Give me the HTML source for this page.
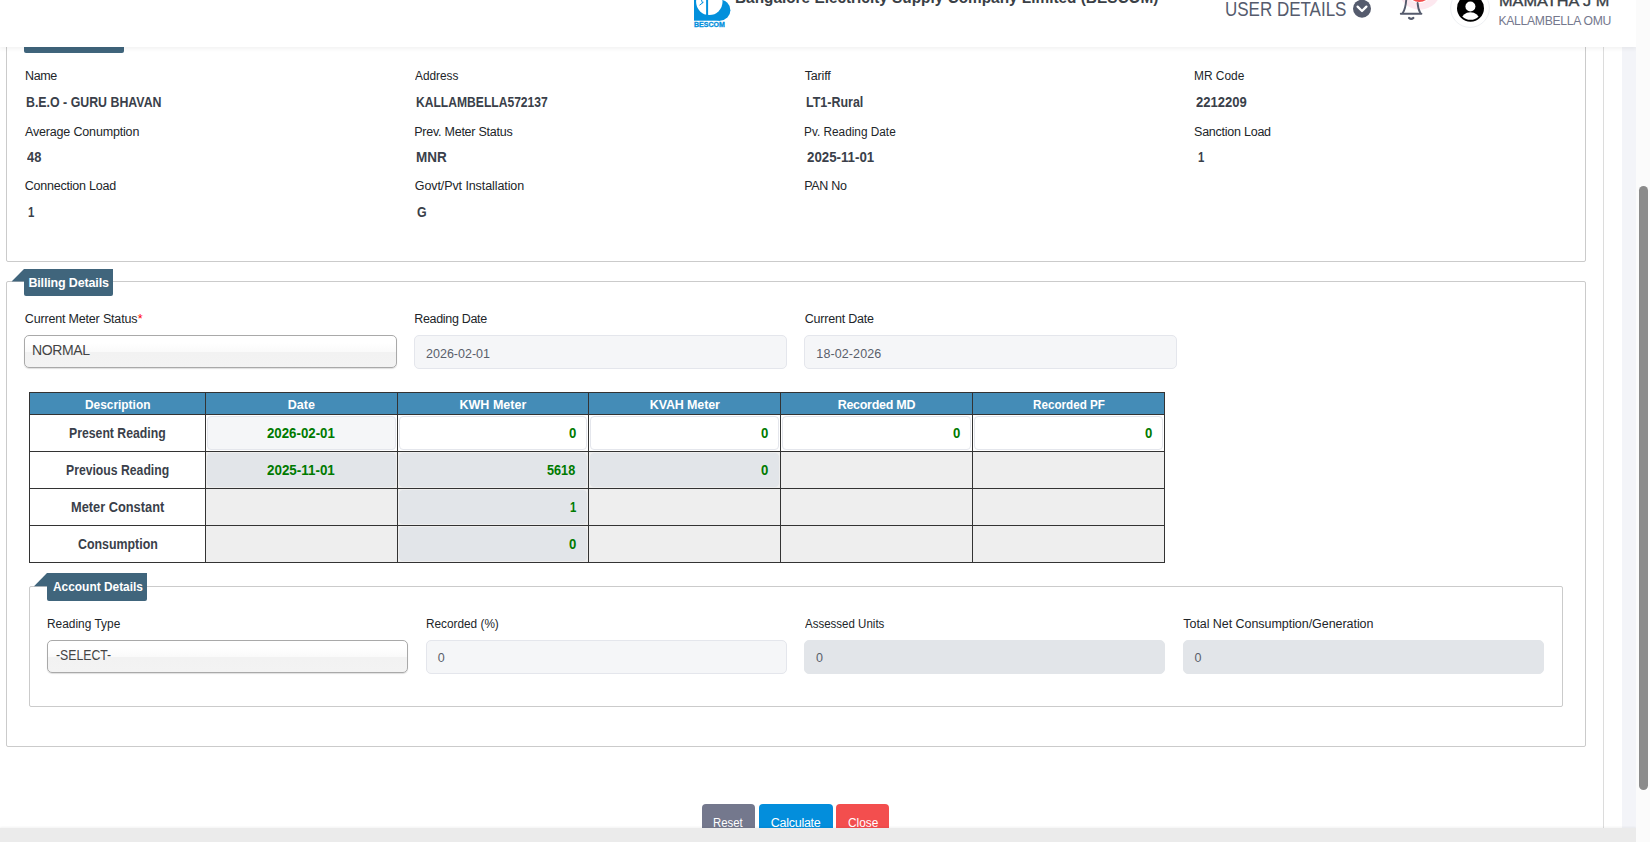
<!DOCTYPE html>
<html lang="en">
<head>
<meta charset="utf-8">
<title>BESCOM - Billing</title>
<style>
html,body{margin:0;padding:0;}
body{width:1650px;height:842px;overflow:hidden;position:relative;background:#fff;font-family:"Liberation Sans",sans-serif;font-size:12.5px;color:#212529;}
.abs{position:absolute;box-sizing:border-box;}
.t{position:absolute;white-space:nowrap;line-height:1;font-family:"Liberation Sans",sans-serif;}
.fs{border:1px solid #cbcbcb;border-radius:2px;background:transparent;}
.lg{background:#40657c;border-radius:0 0 2px 2px;}
.sel{border:1px solid #a9a9a9;border-radius:5px;background:linear-gradient(#ffffff 0%,#ffffff 22%,#fafafa 50%,#f2f2f2 53%,#f3f3f3 100%);box-shadow:0 1px 1px rgba(0,0,0,.13);}
.inp{border:1px solid #e4e6ec;border-radius:5px;background:#f5f6f8;}
.inp.dis{background:#e2e5e9;border-color:#e2e5e9;}
.inp.wh{background:#fff;}
.c{position:absolute;box-sizing:border-box;background:#fff;}
.c.h{background:#448cb7;}
.c.g{background:#eeeeee;}
.c .inp{position:absolute;left:1px;top:1px;right:1px;bottom:1px;box-sizing:border-box;border-radius:4px;}
.btn{position:absolute;box-sizing:border-box;top:804px;height:36px;border-radius:4px;}
</style>
</head>
<body>

<!-- ======== page content (scrolled) ======== -->
<div class="abs" style="left:1603px;top:0;width:1px;height:828px;background:#dcdcdc;"></div>
<div class="abs" style="left:1622px;top:0;width:14px;height:828px;background:#f3f4f8;"></div>

<!-- fieldset 1 : consumer details -->
<div class="abs fs" style="left:6px;top:-40px;width:1580px;height:302px;"></div>
<div class="abs lg" style="left:24px;top:20px;width:100px;height:33px;"></div>

<!-- fieldset 2 : billing details -->
<div class="abs fs" style="left:6px;top:281px;width:1580px;height:466px;"></div>
<svg class="abs" style="left:10px;top:267px;" width="16" height="16" viewBox="0 0 16 16"><polygon points="1.6,14.6 14,2 14,14.6" fill="#40657c"/></svg>
<div class="abs lg" style="left:24px;top:269px;width:89px;height:27px;"></div>

<div class="abs sel" style="left:24px;top:335px;width:373px;height:32.8px;"></div>
<div class="abs inp" style="left:414px;top:335px;width:373px;height:34px;"></div>
<div class="abs inp" style="left:804px;top:335px;width:373px;height:34px;"></div>

<!-- readings table -->
<div class="abs" style="left:29px;top:392px;width:1136px;height:171px;background:#333;">
  <!-- header row -->
  <div class="c h" style="left:1px;top:1px;width:175px;height:21px;"></div>
  <div class="c h" style="left:177px;top:1px;width:191px;height:21px;"></div>
  <div class="c h" style="left:369px;top:1px;width:190px;height:21px;"></div>
  <div class="c h" style="left:560px;top:1px;width:191px;height:21px;"></div>
  <div class="c h" style="left:752px;top:1px;width:191px;height:21px;"></div>
  <div class="c h" style="left:944px;top:1px;width:191px;height:21px;"></div>
  <!-- row 1 : present reading -->
  <div class="c" style="left:1px;top:23px;width:175px;height:36px;"></div>
  <div class="c" style="left:177px;top:23px;width:191px;height:36px;"><div class="inp"></div></div>
  <div class="c" style="left:369px;top:23px;width:190px;height:36px;"><div class="inp wh"></div></div>
  <div class="c" style="left:560px;top:23px;width:191px;height:36px;"><div class="inp wh"></div></div>
  <div class="c" style="left:752px;top:23px;width:191px;height:36px;"><div class="inp wh"></div></div>
  <div class="c" style="left:944px;top:23px;width:191px;height:36px;"><div class="inp wh"></div></div>
  <!-- row 2 : previous reading -->
  <div class="c" style="left:1px;top:60px;width:175px;height:36px;"></div>
  <div class="c g" style="left:177px;top:60px;width:191px;height:36px;"><div class="inp dis"></div></div>
  <div class="c g" style="left:369px;top:60px;width:190px;height:36px;"><div class="inp dis"></div></div>
  <div class="c g" style="left:560px;top:60px;width:191px;height:36px;"><div class="inp dis"></div></div>
  <div class="c g" style="left:752px;top:60px;width:191px;height:36px;"></div>
  <div class="c g" style="left:944px;top:60px;width:191px;height:36px;"></div>
  <!-- row 3 : meter constant -->
  <div class="c" style="left:1px;top:97px;width:175px;height:36px;"></div>
  <div class="c g" style="left:177px;top:97px;width:191px;height:36px;"></div>
  <div class="c g" style="left:369px;top:97px;width:190px;height:36px;"><div class="inp dis"></div></div>
  <div class="c g" style="left:560px;top:97px;width:191px;height:36px;"></div>
  <div class="c g" style="left:752px;top:97px;width:191px;height:36px;"></div>
  <div class="c g" style="left:944px;top:97px;width:191px;height:36px;"></div>
  <!-- row 4 : consumption -->
  <div class="c" style="left:1px;top:134px;width:175px;height:36px;"></div>
  <div class="c g" style="left:177px;top:134px;width:191px;height:36px;"></div>
  <div class="c g" style="left:369px;top:134px;width:190px;height:36px;"><div class="inp dis"></div></div>
  <div class="c g" style="left:560px;top:134px;width:191px;height:36px;"></div>
  <div class="c g" style="left:752px;top:134px;width:191px;height:36px;"></div>
  <div class="c g" style="left:944px;top:134px;width:191px;height:36px;"></div>
</div>

<!-- fieldset 3 : account details -->
<div class="abs fs" style="left:29px;top:586px;width:1534px;height:121px;"></div>
<svg class="abs" style="left:32px;top:571px;" width="16" height="16" viewBox="0 0 16 16"><polygon points="2,15.3 15,2 15,15.3" fill="#40657c"/></svg>
<div class="abs lg" style="left:47px;top:573px;width:100px;height:27.5px;"></div>

<div class="abs sel" style="left:47px;top:640px;width:361px;height:32.8px;"></div>
<div class="abs inp" style="left:426px;top:640px;width:361px;height:34px;"></div>
<div class="abs inp dis" style="left:804px;top:640px;width:361px;height:34px;"></div>
<div class="abs inp dis" style="left:1183px;top:640px;width:361px;height:34px;"></div>

<!-- body text -->
<span class="t" id="t4" style="left:25.09px;top:70.00px;font-size:12.5px;color:#212529;letter-spacing:-0.411px;">Name</span>
<span class="t" id="t5" style="left:414.80px;top:70.00px;font-size:12.5px;color:#212529;transform:scaleX(0.9451);transform-origin:0 0;">Address</span>
<span class="t" id="t6" style="left:804.80px;top:70.00px;font-size:12.5px;color:#212529;letter-spacing:-0.198px;">Tariff</span>
<span class="t" id="t7" style="left:1194.25px;top:70.00px;font-size:12.5px;color:#212529;transform:scaleX(0.9529);transform-origin:0 0;">MR Code</span>
<span class="t" id="t8" style="left:25.00px;top:126.00px;font-size:12.5px;color:#212529;letter-spacing:-0.168px;">Average Conumption</span>
<span class="t" id="t9" style="left:414.20px;top:126.00px;font-size:12.5px;color:#212529;letter-spacing:-0.237px;">Prev. Meter Status</span>
<span class="t" id="t10" style="left:804.26px;top:126.00px;font-size:12.5px;color:#212529;transform:scaleX(0.9449);transform-origin:0 0;">Pv. Reading Date</span>
<span class="t" id="t11" style="left:1194.06px;top:126.00px;font-size:12.5px;color:#212529;letter-spacing:-0.244px;">Sanction Load</span>
<span class="t" id="t12" style="left:24.80px;top:180.00px;font-size:12.5px;color:#212529;letter-spacing:-0.226px;">Connection Load</span>
<span class="t" id="t13" style="left:414.80px;top:180.00px;font-size:12.5px;color:#212529;letter-spacing:-0.091px;">Govt/Pvt Installation</span>
<span class="t" id="t14" style="left:804.20px;top:180.00px;font-size:12.5px;color:#212529;letter-spacing:-0.295px;">PAN No</span>
<span class="t" id="t15" style="left:25.89px;top:95.00px;font-size:14px;font-weight:700;color:#3a3f4a;transform:scaleX(0.8829);transform-origin:0 0;">B.E.O - GURU BHAVAN</span>
<span class="t" id="t16" style="left:416.43px;top:95.00px;font-size:14px;font-weight:700;color:#3a3f4a;transform:scaleX(0.8642);transform-origin:0 0;">KALLAMBELLA572137</span>
<span class="t" id="t17" style="left:805.88px;top:95.00px;font-size:14px;font-weight:700;color:#3a3f4a;transform:scaleX(0.8912);transform-origin:0 0;">LT1-Rural</span>
<span class="t" id="t18" style="left:1196.40px;top:95.00px;font-size:14px;font-weight:700;color:#3a3f4a;transform:scaleX(0.9315);transform-origin:0 0;">2212209</span>
<span class="t" id="t19" style="left:26.50px;top:150.00px;font-size:14px;font-weight:700;color:#3a3f4a;transform:scaleX(0.9185);transform-origin:0 0;">48</span>
<span class="t" id="t20" style="left:416.38px;top:150.00px;font-size:14px;font-weight:700;color:#3a3f4a;transform:scaleX(0.9650);transform-origin:0 0;">MNR</span>
<span class="t" id="t21" style="left:806.70px;top:150.00px;font-size:14px;font-weight:700;color:#3a3f4a;transform:scaleX(0.9481);transform-origin:0 0;">2025-11-01</span>
<span class="t" id="t22" style="left:1197.50px;top:150.00px;font-size:14px;font-weight:700;color:#3a3f4a;transform:scaleX(0.8125);transform-origin:0 0;">1</span>
<span class="t" id="t23" style="left:27.50px;top:205.00px;font-size:14px;font-weight:700;color:#3a3f4a;transform:scaleX(0.8125);transform-origin:0 0;">1</span>
<span class="t" id="t24" style="left:416.70px;top:205.00px;font-size:14px;font-weight:700;color:#3a3f4a;transform:scaleX(0.8864);transform-origin:0 0;">G</span>
<span class="t" id="t25" style="left:28.42px;top:277.00px;font-size:12.5px;font-weight:700;color:#ffffff;letter-spacing:-0.152px;">Billing Details</span>
<span class="t" id="t26" style="left:24.80px;top:313.00px;font-size:12.5px;color:#212529;letter-spacing:-0.177px;">Current Meter Status</span>
<span class="t" id="t27" style="left:137.80px;top:313.00px;font-size:12.5px;color:#ff0000;">*</span>
<span class="t" id="t28" style="left:414.20px;top:313.00px;font-size:12.5px;color:#212529;letter-spacing:-0.308px;">Reading Date</span>
<span class="t" id="t29" style="left:804.80px;top:313.00px;font-size:12.5px;color:#212529;letter-spacing:-0.219px;">Current Date</span>
<span class="t" id="t30" style="left:32.00px;top:343.00px;font-size:14px;color:#444444;letter-spacing:-0.362px;">NORMAL</span>
<span class="t" id="t31" style="left:426.00px;top:348.00px;font-size:12.5px;color:#5a5f6b;letter-spacing:0.009px;">2026-02-01</span>
<span class="t" id="t32" style="left:816.36px;top:348.00px;font-size:12.5px;color:#5a5f6b;letter-spacing:0.101px;">18-02-2026</span>
<span class="t" id="t33" style="left:84.51px;top:399.00px;font-size:12.5px;font-weight:700;color:#ffffff;transform:scaleX(0.9512);transform-origin:0 0;">Description</span>
<span class="t" id="t34" style="left:287.83px;top:399.00px;font-size:12.5px;font-weight:700;color:#ffffff;">Date</span>
<span class="t" id="t35" style="left:459.38px;top:399.00px;font-size:12.5px;font-weight:700;color:#ffffff;letter-spacing:0.044px;">KWH Meter</span>
<span class="t" id="t36" style="left:649.80px;top:399.00px;font-size:12.5px;font-weight:700;color:#ffffff;letter-spacing:-0.138px;">KVAH Meter</span>
<span class="t" id="t37" style="left:837.65px;top:399.00px;font-size:12.5px;font-weight:700;color:#ffffff;letter-spacing:-0.273px;">Recorded MD</span>
<span class="t" id="t38" style="left:1033.30px;top:399.00px;font-size:12.5px;font-weight:700;color:#ffffff;transform:scaleX(0.9327);transform-origin:0 0;">Recorded PF</span>
<span class="t" id="t39" style="left:68.89px;top:426.00px;font-size:14px;font-weight:700;color:#3a3f4a;transform:scaleX(0.8752);transform-origin:0 0;">Present Reading</span>
<span class="t" id="t40" style="left:66.40px;top:463.00px;font-size:14px;font-weight:700;color:#3a3f4a;transform:scaleX(0.8723);transform-origin:0 0;">Previous Reading</span>
<span class="t" id="t41" style="left:71.30px;top:500.00px;font-size:14px;font-weight:700;color:#3a3f4a;transform:scaleX(0.9149);transform-origin:0 0;">Meter Constant</span>
<span class="t" id="t42" style="left:77.70px;top:537.00px;font-size:14px;font-weight:700;color:#3a3f4a;transform:scaleX(0.8845);transform-origin:0 0;">Consumption</span>
<span class="t" id="t43" style="left:267.00px;top:426.00px;font-size:14px;font-weight:700;color:#007a00;transform:scaleX(0.9467);transform-origin:0 0;">2026-02-01</span>
<span class="t" id="t44" style="left:267.00px;top:463.00px;font-size:14px;font-weight:700;color:#007a00;transform:scaleX(0.9570);transform-origin:0 0;">2025-11-01</span>
<span class="t" id="t45" style="left:568.70px;top:426.00px;font-size:14px;font-weight:700;color:#007a00;transform:scaleX(0.9375);transform-origin:0 0;">0</span>
<span class="t" id="t46" style="left:547.30px;top:463.00px;font-size:14px;font-weight:700;color:#007a00;transform:scaleX(0.9057);transform-origin:0 0;">5618</span>
<span class="t" id="t47" style="left:570.20px;top:500.00px;font-size:14px;font-weight:700;color:#007a00;transform:scaleX(0.8125);transform-origin:0 0;">1</span>
<span class="t" id="t48" style="left:568.70px;top:537.00px;font-size:14px;font-weight:700;color:#007a00;transform:scaleX(0.9375);transform-origin:0 0;">0</span>
<span class="t" id="t49" style="left:760.70px;top:426.00px;font-size:14px;font-weight:700;color:#007a00;transform:scaleX(0.9375);transform-origin:0 0;">0</span>
<span class="t" id="t50" style="left:760.70px;top:463.00px;font-size:14px;font-weight:700;color:#007a00;transform:scaleX(0.9375);transform-origin:0 0;">0</span>
<span class="t" id="t51" style="left:952.70px;top:426.00px;font-size:14px;font-weight:700;color:#007a00;transform:scaleX(0.9375);transform-origin:0 0;">0</span>
<span class="t" id="t52" style="left:1144.60px;top:426.00px;font-size:14px;font-weight:700;color:#007a00;transform:scaleX(0.9375);transform-origin:0 0;">0</span>
<span class="t" id="t53" style="left:52.50px;top:581.00px;font-size:12.5px;font-weight:700;color:#ffffff;transform:scaleX(0.9523);transform-origin:0 0;">Account Details</span>
<span class="t" id="t54" style="left:46.85px;top:618.00px;font-size:12.5px;color:#212529;transform:scaleX(0.9530);transform-origin:0 0;">Reading Type</span>
<span class="t" id="t55" style="left:425.66px;top:618.00px;font-size:12.5px;color:#212529;transform:scaleX(0.9441);transform-origin:0 0;">Recorded (%)</span>
<span class="t" id="t56" style="left:804.90px;top:618.00px;font-size:12.5px;color:#212529;transform:scaleX(0.9209);transform-origin:0 0;">Assessed Units</span>
<span class="t" id="t57" style="left:1183.30px;top:618.00px;font-size:12.5px;color:#212529;letter-spacing:-0.052px;">Total Net Consumption/Generation</span>
<span class="t" id="t58" style="left:55.80px;top:648.00px;font-size:14px;color:#444444;transform:scaleX(0.8757);transform-origin:0 0;">-SELECT-</span>
<span class="t" id="t59" style="left:437.70px;top:652.00px;font-size:12.5px;color:#5a5f6b;">0</span>
<span class="t" id="t60" style="left:815.90px;top:652.00px;font-size:12.5px;color:#5a5f6b;">0</span>
<span class="t" id="t61" style="left:1194.60px;top:652.00px;font-size:12.5px;color:#5a5f6b;">0</span>

<!-- buttons -->
<div class="btn" style="left:702px;width:53px;background:#74788d;"></div>
<div class="btn" style="left:759px;width:74px;background:#038edc;"></div>
<div class="btn" style="left:836px;width:53px;background:#f34e4e;"></div>
<span class="t" id="t62" style="left:713.29px;top:817.00px;font-size:12.5px;color:#ffffff;transform:scaleX(0.9105);transform-origin:0 0;">Reset</span>
<span class="t" id="t63" style="left:770.80px;top:817.00px;font-size:12.5px;color:#ffffff;letter-spacing:-0.270px;">Calculate</span>
<span class="t" id="t64" style="left:847.80px;top:817.00px;font-size:12.5px;color:#ffffff;transform:scaleX(0.9508);transform-origin:0 0;">Close</span>

<!-- ======== fixed header ======== -->
<div class="abs" id="hdr" style="left:0;top:0;width:1636px;height:47px;background:#fff;box-shadow:0 2px 4px rgba(0,0,0,.055);overflow:hidden;">
  <!-- logo -->
  <svg class="abs" style="left:690px;top:0;" width="46" height="30" viewBox="690 0 46 30">
    <rect x="694" y="-2" width="26" height="22.7" fill="#0390dc"/>
    <ellipse cx="720" cy="10.2" rx="10.4" ry="10.5" fill="#0390dc"/>
    <circle cx="709.3" cy="1.8" r="13.2" fill="#fff"/>
    <rect x="706.1" y="-2" width="2" height="18" fill="#0390dc"/>
    <path d="M699.5,5.2 L703.5,2.2 M701.5,0 L702.5,3" stroke="#0390dc" stroke-width="1" fill="none"/>
  </svg>
  <!-- chevron circle -->
  <svg class="abs" style="left:1352px;top:-2px;" width="20" height="20" viewBox="0 0 20 20">
    <circle cx="10" cy="10.7" r="9" fill="#555b6d"/>
    <path d="M5.6,8.6 L10,13 L14.4,8.6" stroke="#fff" stroke-width="2.3" fill="none" stroke-linecap="round" stroke-linejoin="round"/>
  </svg>
  <!-- notification halo + badge -->
  <svg class="abs" style="left:1390px;top:0;" width="60" height="30" viewBox="1390 0 60 30">
    <circle cx="1419.7" cy="-11.8" r="21.5" fill="#fde8ef"/>
    <ellipse cx="1419.3" cy="-8.2" rx="12.4" ry="11.3" fill="#fff"/>
    <ellipse cx="1419.3" cy="-8.2" rx="11.2" ry="10.2" fill="#f34e4e"/>
    <!-- bell -->
    <path d="M1406.3,-1 C1405.9,5 1405,9.4 1402.9,12.8 M1417.6,3 C1417.9,7 1418.6,10.2 1420.2,12.8" stroke="#555b6d" stroke-width="1.9" fill="none" stroke-linecap="round"/>
    <path d="M1400.8,13.7 H1421.4" stroke="#555b6d" stroke-width="1.9" fill="none" stroke-linecap="round"/>
    <path d="M1409,17.9 Q1411.2,19.9 1413.4,17.9" stroke="#555b6d" stroke-width="2.1" fill="none" stroke-linecap="round"/>
  </svg>
  <!-- avatar -->
  <svg class="abs" style="left:1448px;top:0;" width="44" height="32" viewBox="1448 0 44 32">
    <circle cx="1470" cy="8" r="19.4" fill="#fff" stroke="#eef0f3" stroke-width="1"/>
    <circle cx="1470.5" cy="8.2" r="13.5" fill="#000"/>
    <circle cx="1470.4" cy="6.5" r="5" fill="#fff"/>
    <clipPath id="cp"><circle cx="1470.5" cy="8.2" r="11.6"/></clipPath>
    <ellipse cx="1470.4" cy="19.6" rx="9" ry="7.3" fill="#fff" clip-path="url(#cp)"/>
  </svg>
  <span class="t" id="t0" style="left:735.07px;top:-10.60px;font-size:16.5px;font-weight:700;color:#3a4046;transform:scaleX(0.9311);transform-origin:0 0;">Bangalore Electricity Supply Company Limited (BESCOM)</span>
<span class="t" id="t1" style="left:1225.15px;top:-1.00px;font-size:20px;color:#555b6d;transform:scaleX(0.8492);transform-origin:0 0;">USER DETAILS</span>
<span class="t" id="t2" style="left:1498.61px;top:-7.00px;font-size:15px;color:#3b4248;transform:scaleX(1.0879);transform-origin:0 0;-webkit-text-stroke:0.35px #3b4248;">MAMATHA J M</span>
<span class="t" id="t3" style="left:1498.40px;top:15.00px;font-size:12.2px;color:#74788d;letter-spacing:-0.304px;">KALLAMBELLA OMU</span>
<span class="t" id="t65" style="left:694.00px;top:22.00px;font-size:6.5px;font-weight:700;color:#0390dc;transform:scaleX(1.0766);transform-origin:0 0;-webkit-text-stroke:0.3px #0390dc;">BESCOM</span>
</div>

<!-- bottom horizontal scrollbar strip -->
<div class="abs" style="left:0;top:828px;width:1636px;height:14px;background:#ebebeb;box-shadow:0 -1px 2px rgba(0,0,0,.05);"></div>
<!-- page scrollbar -->
<div class="abs" style="left:1636px;top:0;width:14px;height:842px;background:#fbfbfb;"></div>
<div class="abs" style="left:1639px;top:186px;width:9px;height:604px;background:#8b8b8b;border-radius:4.5px;"></div>

</body>
</html>
